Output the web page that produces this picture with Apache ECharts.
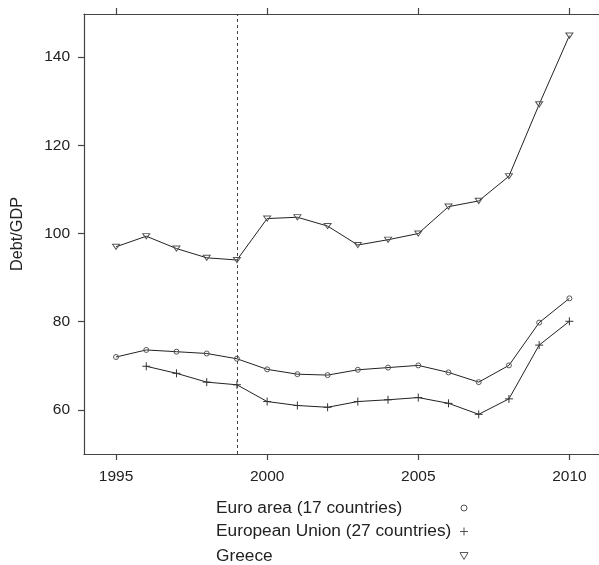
<!DOCTYPE html>
<html>
<head>
<meta charset="utf-8">
<script src="https://cdn.jsdelivr.net/npm/echarts@6/dist/echarts.min.js"></script>
<style>
html,body{margin:0;padding:0;background:#fff;}
#chart{width:599px;height:565px;}
</style>
</head>
<body>
<div id="chart"></div>
<script>
var years = [1995,1996,1997,1998,1999,2000,2001,2002,2003,2004,2005,2006,2007,2008,2009,2010];
var euroArea = [72.0,73.6,73.2,72.8,71.6,69.2,68.1,67.9,69.1,69.6,70.1,68.5,66.3,70.1,79.8,85.3];
var europeanUnion = [null,69.9,68.3,66.3,65.7,61.9,61.0,60.6,61.9,62.3,62.8,61.5,59.0,62.5,74.7,80.1];
var greece = [97.0,99.4,96.6,94.5,94.0,103.4,103.7,101.7,97.4,98.6,100.0,106.1,107.4,113.0,129.3,144.9];
var xTicks = [1995,2000,2005,2010];
var yTicks = [60,80,100,120,140];
var markerYear = 1999;
var seriesNames = ['Euro area (17 countries)','European Union (27 countries)','Greece'];

function pairs(vals){
  var out = [];
  for (var i = 0; i < years.length; i++) {
    if (vals[i] !== null) out.push([years[i], vals[i]]);
  }
  return out;
}

var FONT = 'Liberation Sans, Arial, Helvetica, sans-serif';
var AXIS = '#444';
var LINE = '#222';
var MARK = '#555';
var PLUS = 'path://M5,0L5,10M0,5L10,5';
var TRI = 'path://M0,0L10,0L5,8.66Z';

function legendFor(name, icon, w, h, top){
  return {
    show: true,
    data: [{name: name, icon: icon}],
    left: 216, top: top,
    padding: 0,
    align: 'right',
    itemWidth: w, itemHeight: h,
    selectedMode: false,
    itemStyle: {color: 'transparent', borderColor: MARK, borderWidth: 1},
    formatter: '{t|{name}}',
    textStyle: {
      rich: {t: {width: 243 - w/2, align: 'left', fontSize: 17.3, lineHeight: 18, color: '#222', fontFamily: FONT}}
    }
  };
}

var chart = echarts.init(document.getElementById('chart'), null, {renderer: 'canvas'});
chart.setOption({
  animation: false,
  textStyle: {fontFamily: FONT},
  grid: {left: 84, top: 14, right: 0, bottom: 111, containLabel: false},
  legend: [
    legendFor(seriesNames[0], 'circle', 6, 6, 499.5),
    legendFor(seriesNames[1], PLUS, 8, 8, 523),
    legendFor(seriesNames[2], TRI, 8, 7, 547.5)
  ],
  xAxis: [{
    type: 'value', position: 'bottom', min: 1993.94, max: 2010.98,
    axisLine: {show: true, lineStyle: {color: AXIS, width: 1.2}},
    axisTick: {show: true, inside: false, length: 6, customValues: xTicks, lineStyle: {color: AXIS, width: 1.2}},
    axisLabel: {show: true, customValues: xTicks, formatter: function(v){ return String(v); }, margin: 15, fontSize: 15.5, color: '#222', fontFamily: FONT},
    splitLine: {show: false}
  }, {
    type: 'value', position: 'top', min: 1993.94, max: 2010.98,
    axisLine: {show: true, lineStyle: {color: AXIS, width: 1.2}},
    axisTick: {show: true, inside: false, length: 6, customValues: xTicks, lineStyle: {color: AXIS, width: 1.2}},
    axisLabel: {show: false},
    splitLine: {show: false}
  }],
  yAxis: {
    type: 'value', min: 50, max: 149.8,
    name: 'Debt/GDP', nameLocation: 'middle', nameGap: 58, nameRotate: 90,
    nameTextStyle: {fontSize: 16.3, color: '#222', fontFamily: FONT},
    axisLine: {show: true, lineStyle: {color: AXIS, width: 1.2}},
    axisTick: {show: true, inside: false, length: 6, customValues: yTicks, lineStyle: {color: AXIS, width: 1.2}},
    axisLabel: {show: true, customValues: yTicks, margin: 14, fontSize: 15.5, color: '#222', fontFamily: FONT},
    splitLine: {show: false}
  },
  series: [{
    name: seriesNames[0], type: 'line', data: pairs(euroArea),
    symbol: 'circle', symbolSize: 5,
    lineStyle: {color: LINE, width: 1},
    itemStyle: {color: 'transparent', borderColor: MARK, borderWidth: 1}
  }, {
    name: seriesNames[1], type: 'line', data: pairs(europeanUnion),
    symbol: PLUS, symbolSize: 8, symbolKeepAspect: true,
    lineStyle: {color: LINE, width: 1},
    itemStyle: {color: 'transparent', borderColor: '#333', borderWidth: 1}
  }, {
    name: seriesNames[2], type: 'line', data: pairs(greece),
    symbol: TRI, symbolSize: [7, 6], symbolKeepAspect: true,
    lineStyle: {color: LINE, width: 1},
    itemStyle: {color: 'transparent', borderColor: MARK, borderWidth: 1},
    markLine: {
      silent: true, symbol: 'none', label: {show: false},
      lineStyle: {type: [3, 3], color: '#444', width: 1},
      data: [{xAxis: markerYear}]
    }
  }]
});
</script>
</body>
</html>
